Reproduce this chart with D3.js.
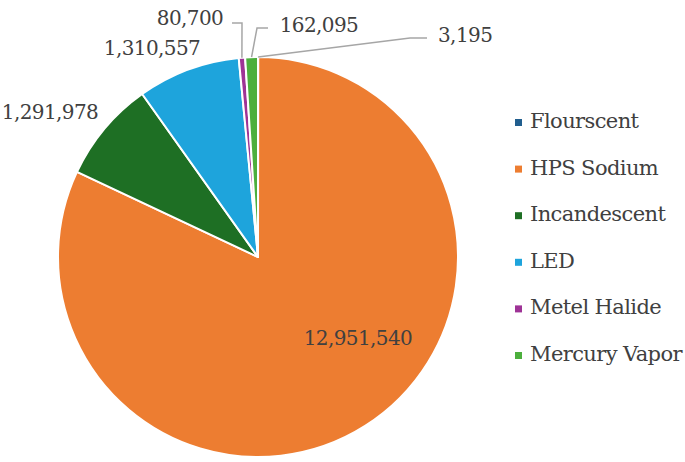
<!DOCTYPE html>
<html>
<head>
<meta charset="utf-8">
<script src="https://cdn.jsdelivr.net/npm/d3@7"></script>
<style>
  body { margin: 0; background: #fff; }
  svg text { font-family: "DejaVu Serif", serif; }
</style>
</head>
<body>
<div id="chart"></div>
<script>
// data
const categories = ["Flourscent", "HPS Sodium", "Incandescent", "LED", "Metel Halide", "Mercury Vapor"];
const values = [3195, 12951540, 1291978, 1310557, 80700, 162095];
const colors = ["#215e8e", "#ed7d31", "#1e6f24", "#1ea4dc", "#9e3396", "#4caf3d"];

// label placement, relative to pie centre (label x, baseline y, optional leader elbow/end)
const labelLayout = [
  { x: 180, y: -215, anchor: "start", line: [[152, -219], [169, -219]] },
  { x: 100, y: 88, anchor: "middle" },
  { x: -208, y: -138, anchor: "middle" },
  { x: -106, y: -202, anchor: "middle" },
  { x: -68, y: -232, anchor: "middle", line: [[-16, -234], [-26, -234]] },
  { x: 61, y: -225, anchor: "middle", line: [[-1, -229], [10, -229]] }
];

const width = 685, height = 462;
const cx = 258, cy = 257, radius = 200;

const svg = d3.select("#chart").append("svg")
  .attr("width", width)
  .attr("height", height);

const g = svg.append("g").attr("transform", "translate(" + cx + "," + cy + ")");

const pie = d3.pie().sort(null).value(d => d)(values);
const arc = d3.arc().innerRadius(0).outerRadius(radius);

g.selectAll("path.slice")
  .data(pie)
  .enter().append("path")
  .attr("class", "slice")
  .attr("d", arc)
  .attr("fill", (d, i) => colors[i])
  .attr("stroke", "#fff")
  .attr("stroke-width", 2)
  .attr("stroke-linejoin", "round");

// leader lines
pie.forEach((d, i) => {
  const L = labelLayout[i];
  if (!L.line) return;
  const mid = (d.startAngle + d.endAngle) / 2;
  const p0 = d3.pointRadial(mid, radius);
  const pts = [p0].concat(L.line);
  g.append("path")
    .attr("d", d3.line()(pts))
    .attr("fill", "none")
    .attr("stroke", "#a6a6a6")
    .attr("stroke-width", 1.5);
});

// value labels
g.selectAll("text.val")
  .data(pie)
  .enter().append("text")
  .attr("class", "val")
  .attr("x", (d, i) => labelLayout[i].x)
  .attr("y", (d, i) => labelLayout[i].y)
  .attr("text-anchor", (d, i) => labelLayout[i].anchor)
  .attr("font-size", 20)
  .attr("letter-spacing", -0.6)
  .attr("fill", "#404040")
  .text(d => d3.format(",")(d.data));

// legend
const legend = svg.append("g").attr("transform", "translate(515,128)");
const item = legend.selectAll("g")
  .data(categories)
  .enter().append("g")
  .attr("transform", (d, i) => "translate(0," + (i * 46.6) + ")");

item.append("rect")
  .attr("x", 0)
  .attr("y", -9)
  .attr("width", 7)
  .attr("height", 7)
  .attr("fill", (d, i) => colors[i]);

item.append("text")
  .attr("x", 15)
  .attr("y", 0)
  .attr("font-size", 21)
  .attr("letter-spacing", -0.6)
  .attr("fill", "#404040")
  .text(d => d);
</script>
</body>
</html>
